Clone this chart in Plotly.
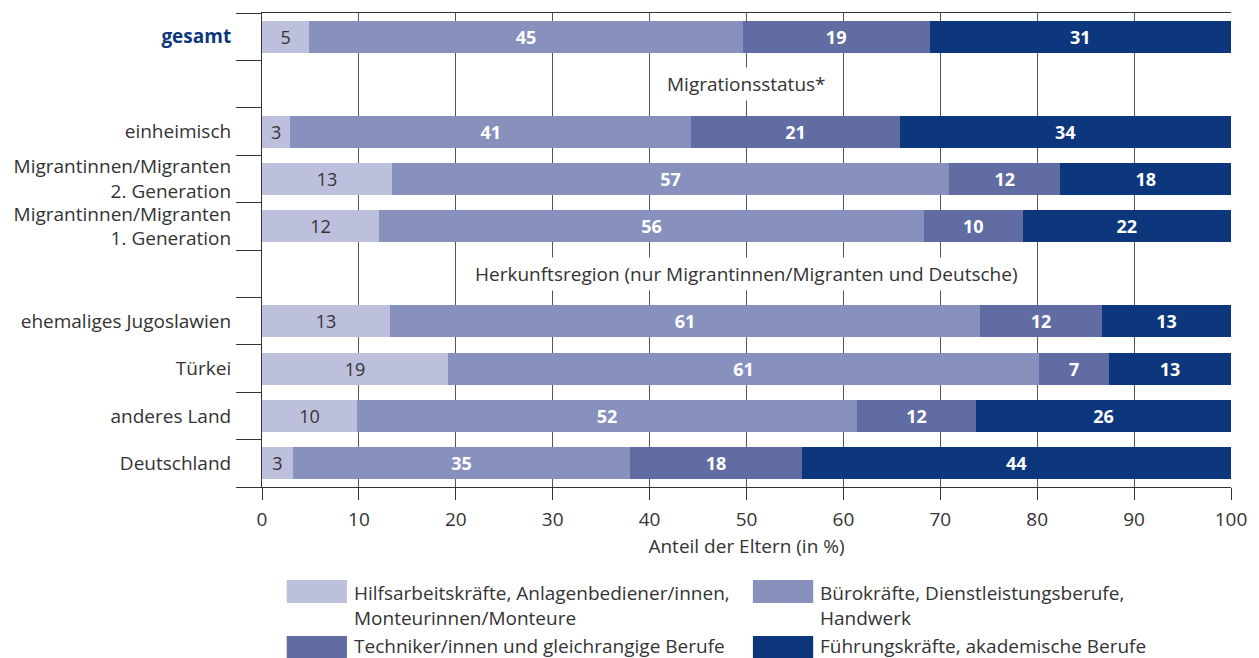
import plotly.graph_objects as go

# row order top -> bottom, the two "sep" rows only carry a section heading
rows = ["gesamt", "sep1", "einheimisch", "mig2", "mig1", "sep2",
        "jugoslawien", "tuerkei", "anderes", "deutschland"]
row_labels = ["<b><span style='color:#0C377D'>gesamt</span></b>", "",
              "einheimisch",
              "Migrantinnen/Migranten<br>2. Generation",
              "Migrantinnen/Migranten<br>1. Generation", "",
              "ehemaliges Jugoslawien", "Türkei", "anderes Land", "Deutschland"]

series_names = ["Hilfsarbeitskräfte, Anlagenbediener/innen,<br>Monteurinnen/Monteure",
                "Bürokräfte, Dienstleistungsberufe,<br>Handwerk",
                "Techniker/innen und gleichrangige Berufe",
                "Führungskräfte, akademische Berufe"]

hilfs = [4.9, None, 2.9, 13.4, 12.1, None, 13.2, 19.2, 9.8, 3.2]
buero = [44.7, None, 41.4, 57.5, 56.2, None, 60.9, 61.0, 51.6, 34.8]
tech = [19.3, None, 21.5, 11.5, 10.2, None, 12.6, 7.2, 12.3, 17.7]
fuehr = [31.1, None, 34.2, 17.6, 21.5, None, 13.3, 12.6, 26.3, 44.3]

hilfs_lbl = ["5", "", "3", "13", "12", "", "13", "19", "10", "3"]
buero_lbl = ["45", "", "41", "57", "56", "", "61", "61", "52", "35"]
tech_lbl = ["19", "", "21", "12", "10", "", "12", "7", "12", "18"]
fuehr_lbl = ["31", "", "34", "18", "22", "", "13", "13", "26", "44"]

sections = {"sep1": "Migrationsstatus*",
            "sep2": "Herkunftsregion (nur Migrantinnen/Migranten und Deutsche)"}

colors = ["#BCC0DC", "#8891BD", "#606CA2", "#0C377D"]
text_colors = ["#333333", "white", "white", "white"]

FONT = "Open Sans"
FS = 19

W, H = 1259, 658
# plot area in pixels
L, R, T, B = 262, 1243, 12.7, 487


def px(x):
    return (x - L) / (R - L)


def py(y):
    return (B - y) / (B - T)


fig = go.Figure()
for name, vals, lbls, col, tcol in zip(series_names,
                                       [hilfs, buero, tech, fuehr],
                                       [hilfs_lbl, buero_lbl, tech_lbl, fuehr_lbl],
                                       colors, text_colors):
    fig.add_trace(go.Bar(
        y=rows, x=vals, orientation="h", name=name,
        marker=dict(color=col, line=dict(width=0)),
        text=lbls, textposition="inside", insidetextanchor="middle",
        textangle=0, constraintext="none",
        textfont=dict(family=FONT, size=18, color=tcol,
                      weight="normal" if tcol != "white" else "bold"),
        showlegend=False, hoverinfo="skip",
    ))

for key, txt in sections.items():
    fig.add_annotation(x=50, y=key, xref="x", yref="y", text=txt,
                       showarrow=False, bgcolor="white", borderpad=3,
                       font=dict(family=FONT, size=FS, color="#333333"))

# legend: swatches + text, two columns
leg_cols = [287, 759]
leg_rows = [(580, 603), (636, 660)]
leg_text_y = [578, 646]
for i, (name, col) in enumerate(zip(series_names, colors)):
    cx = leg_cols[i % 2]
    y0, y1 = leg_rows[i // 2]
    fig.add_shape(type="rect", xref="paper", yref="paper",
                  x0=px(cx), x1=px(cx + 61), y0=py(y1), y1=py(y0),
                  fillcolor=col, line=dict(width=0))
    two_lines = "<br>" in name
    fig.add_annotation(xref="paper", yref="paper", x=px(cx + 66),
                       y=py(leg_text_y[i // 2]), xanchor="left",
                       yanchor="top" if two_lines else "middle",
                       align="left", showarrow=False, text=name,
                       font=dict(family=FONT, size=FS, color="#333333"))

fig.update_layout(
    width=W, height=H, autosize=False,
    margin=dict(l=L, r=W - R, t=T, b=H - B),
    barmode="stack", bargap=0.325,
    plot_bgcolor="white", paper_bgcolor="white",
    font=dict(family=FONT, size=FS, color="#333333"),
)
fig.update_xaxes(
    range=[0, 100], dtick=10, showgrid=True, gridcolor="#555555", gridwidth=1,
    zeroline=False, showline=True, linecolor="#333333", mirror=True,
    ticks="outside", ticklen=12, tickcolor="#333333", ticklabelstandoff=3,
    ticklabeloverflow="allow",
    tickfont=dict(family=FONT, size=FS, color="#333333"),
    title=dict(text="Anteil der Eltern (in %)", standoff=8,
               font=dict(family=FONT, size=FS, color="#333333")),
)
fig.update_yaxes(
    type="category", categoryarray=rows, autorange="reversed",
    tickvals=rows, ticktext=row_labels,
    tickson="boundaries", ticks="outside", ticklen=25, tickcolor="#333333",
    ticklabelstandoff=26,
    showline=True, linecolor="#333333", showgrid=False,
    tickfont=dict(family=FONT, size=FS, color="#333333"),
)

page_fix = ("document.documentElement.style.overflow='hidden';"
            "document.body.style.overflow='hidden';"
            "document.body.style.margin='0';")
fig.write_html("out.html", config={"displayModeBar": False, "responsive": False},
               post_script=page_fix)
